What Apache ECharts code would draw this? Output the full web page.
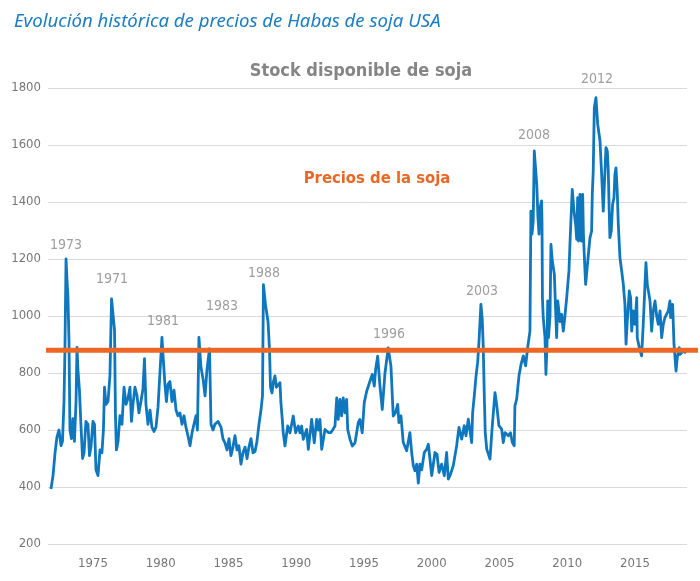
<!DOCTYPE html>
<html>
<head>
<meta charset="utf-8">
<script src="https://cdn.jsdelivr.net/npm/echarts@6/dist/echarts.min.js"></script>
<style>
  html, body { margin: 0; padding: 0; background: #fff; }
  #main { width: 700px; height: 581px; }
</style>
</head>
<body>
<div id="main"></div>
<script>
// fechas (años decimales) y precios (centavos/bushel)
var years = [
  1971.90, 1972.05, 1972.20, 1972.34, 1972.49, 1972.64, 1972.75, 1972.86, 1972.93, 1973.01,
  1973.08, 1973.15, 1973.23, 1973.30, 1973.41, 1973.52, 1973.63, 1973.75, 1973.82, 1973.89,
  1974.00, 1974.11, 1974.23, 1974.34, 1974.48, 1974.63, 1974.74, 1974.85, 1975.00, 1975.11,
  1975.22, 1975.37, 1975.52, 1975.66, 1975.77, 1975.85, 1975.96, 1976.11, 1976.25, 1976.37,
  1976.48, 1976.59, 1976.66, 1976.73, 1976.85, 1976.99, 1977.14, 1977.29, 1977.44, 1977.58,
  1977.73, 1977.84, 1977.95, 1978.10, 1978.25, 1978.39, 1978.54, 1978.69, 1978.80, 1978.91,
  1979.06, 1979.21, 1979.35, 1979.50, 1979.65, 1979.80, 1979.94, 1980.09, 1980.20, 1980.31,
  1980.42, 1980.54, 1980.68, 1980.83, 1980.98, 1981.13, 1981.27, 1981.42, 1981.57, 1981.72,
  1981.86, 1982.01, 1982.16, 1982.31, 1982.45, 1982.60, 1982.71, 1982.82, 1982.97, 1983.12,
  1983.27, 1983.41, 1983.60, 1983.71, 1983.86, 1984.00, 1984.23, 1984.45, 1984.59, 1984.74,
  1984.89, 1985.04, 1985.18, 1985.33, 1985.48, 1985.63, 1985.77, 1985.92, 1986.07, 1986.22,
  1986.37, 1986.51, 1986.66, 1986.81, 1986.96, 1987.10, 1987.25, 1987.40, 1987.51, 1987.58,
  1987.73, 1987.92, 1988.03, 1988.10, 1988.21, 1988.32, 1988.43, 1988.54, 1988.68, 1988.80,
  1988.87, 1988.97, 1989.04, 1989.17, 1989.37, 1989.54, 1989.78, 1989.96, 1990.15, 1990.28,
  1990.40, 1990.52, 1990.77, 1990.89, 1991.14, 1991.33, 1991.51, 1991.63, 1991.75, 1991.88,
  1992.12, 1992.37, 1992.56, 1992.71, 1992.86, 1992.99, 1993.10, 1993.23, 1993.35, 1993.47,
  1993.60, 1993.72, 1993.80, 1993.97, 1994.14, 1994.34, 1994.58, 1994.70, 1994.87, 1995.02,
  1995.20, 1995.44, 1995.61, 1995.76, 1995.86, 1996.01, 1996.18, 1996.35, 1996.55, 1996.79,
  1996.99, 1997.16, 1997.32, 1997.49, 1997.58, 1997.73, 1997.90, 1998.15, 1998.39, 1998.52,
  1998.64, 1998.76, 1998.89, 1999.01, 1999.13, 1999.26, 1999.45, 1999.63, 1999.75, 1999.87,
  2000.00, 2000.24, 2000.39, 2000.54, 2000.73, 2000.93, 2001.10, 2001.22, 2001.35, 2001.59,
  2001.84, 2002.01, 2002.21, 2002.40, 2002.53, 2002.70, 2002.82, 2002.95, 2003.02, 2003.14,
  2003.27, 2003.39, 2003.49, 2003.63, 2003.73, 2003.80, 2003.88, 2003.95, 2004.06, 2004.30,
  2004.47, 2004.67, 2004.79, 2004.96, 2005.16, 2005.28, 2005.41, 2005.65, 2005.81, 2005.95,
  2006.09, 2006.14, 2006.27, 2006.44, 2006.59, 2006.76, 2006.93, 2007.08, 2007.25, 2007.32,
  2007.40, 2007.49, 2007.57, 2007.66, 2007.75, 2007.84, 2007.92, 2007.99, 2008.11, 2008.14,
  2008.17, 2008.23, 2008.36, 2008.43, 2008.51, 2008.56, 2008.62, 2008.73, 2008.80, 2008.90,
  2009.05, 2009.12, 2009.22, 2009.30, 2009.47, 2009.59, 2009.71, 2009.83, 2009.96, 2010.06,
  2010.13, 2010.20, 2010.37, 2010.50, 2010.62, 2010.70, 2010.77, 2010.83, 2010.94, 2011.04,
  2011.14, 2011.20, 2011.31, 2011.36, 2011.53, 2011.68, 2011.80, 2011.85, 2011.92, 2012.00,
  2012.12, 2012.25, 2012.42, 2012.54, 2012.66, 2012.86, 2012.96, 2013.03, 2013.10, 2013.15,
  2013.25, 2013.35, 2013.45, 2013.52, 2013.60, 2013.69, 2013.77, 2013.89, 2014.02, 2014.14,
  2014.26, 2014.34, 2014.43, 2014.58, 2014.68, 2014.76, 2014.87, 2015.00, 2015.13, 2015.17,
  2015.32, 2015.49, 2015.61, 2015.74, 2015.81, 2015.91, 2016.11, 2016.23, 2016.35, 2016.48,
  2016.60, 2016.72, 2016.85, 2016.97, 2017.09, 2017.21, 2017.46, 2017.58, 2017.63, 2017.78,
  2017.88, 2018.03, 2018.12, 2018.27, 2018.32, 2018.56, 2018.76
];
var prices = [
  393, 440, 520, 575, 600, 545, 560, 700, 880, 1200,
  1130, 1069, 910, 600, 570, 640, 560, 700, 890, 810,
  740, 620, 500, 520, 630, 620, 510, 540, 630, 620,
  460, 440, 530, 520, 600, 750, 690, 700, 790, 1060,
  1055, 950, 650, 530, 560, 650, 620, 750, 690, 710,
  750, 630, 690, 750, 720, 660, 700, 745, 850, 690,
  620, 670, 610, 595, 610, 680, 800, 925, 840, 760,
  700, 760, 770, 700, 740, 670, 650, 660, 620, 650,
  610, 580, 545, 590, 620, 650, 600, 925, 820, 780,
  720, 810, 885, 620, 600, 620, 630, 610, 570, 555,
  530, 570, 510, 540, 580, 530, 545, 480, 520, 540,
  500, 540, 570, 520, 525, 560, 620, 670, 720, 1110,
  1040, 980, 880, 750, 730, 770, 790, 750, 754, 766,
  696, 637, 591, 544, 614, 590, 649, 590, 614, 590,
  614, 567, 602, 532, 637, 555, 637, 600, 637, 532,
  602, 591, 591, 602, 614, 713, 637, 707, 650, 713,
  660, 707, 602, 567, 544, 555, 626, 637, 590, 696,
  736, 771, 795, 754, 812, 859, 754, 672, 800, 888,
  824, 649, 660, 690, 626, 650, 556, 527, 591, 521,
  475, 457, 480, 414, 480, 460, 521, 533, 550, 498,
  440, 521, 515, 451, 480, 440, 521, 428, 440, 475,
  545, 609, 568, 615, 580, 638, 638, 556, 661, 720,
  790, 837, 912, 1041, 988, 895, 720, 591, 533, 498,
  615, 731, 690, 615, 603, 556, 591, 580, 590, 556,
  545, 685, 708, 790, 830, 860, 825, 889, 947, 1368,
  1287, 1333, 1579, 1520, 1462, 1345, 1287, 1380, 1404, 1322,
  1064, 994, 924, 795, 901, 1053, 924, 1000, 1251, 1193,
  1146, 1053, 924, 1053, 980, 1006, 947, 1000, 1064, 1060,
  1160, 1251, 1444, 1368, 1322, 1269, 1415, 1263, 1427, 1263,
  1427, 1280, 1158, 1111, 1200, 1275, 1298, 1427, 1509, 1731,
  1766, 1673, 1614, 1497, 1368, 1591, 1579, 1509, 1368, 1275,
  1298, 1392, 1415, 1497, 1520, 1439, 1322, 1205, 1158, 1111,
  1041, 901, 980, 1088, 1064, 947, 1018, 971, 1064, 924,
  889, 860, 971, 1111, 1187, 1111, 1053, 947, 1018, 1053,
  1000, 971, 1018, 924, 971, 994, 1018, 1053, 994, 1041,
  901, 807, 854, 889, 865, 877, 870
];

// linea de referencia "Precios de la soja"
var refPrice = 880;

// etiquetas de años sobre los picos
var annotLabels = ['1973', '1971', '1981', '1983', '1988', '1996', '2003', '2008', '2012'];
var annotYears  = [1973.01, 1976.40, 1980.17, 1984.52, 1987.62, 1996.85, 2003.71, 2007.55, 2012.20];
var annotValues = [1249, 1130, 982, 1035, 1151, 937, 1088, 1635, 1832];

var xTicks = [1975, 1980, 1985, 1990, 1995, 2000, 2005, 2010, 2015];

var narrowFont = '"Liberation Sans Narrow", "DejaVu Sans Condensed", "Roboto", sans-serif';

var chart = echarts.init(document.getElementById('main'));

var seriesData = [];
for (var i = 0; i < years.length; i++) {
  seriesData.push([years[i], prices[i]]);
}
var annotData = [];
for (var j = 0; j < annotLabels.length; j++) {
  annotData.push({ name: annotLabels[j], value: [annotYears[j], annotValues[j]] });
}

chart.setOption({
  animation: false,
  title: [{
    text: 'Evolución histórica de precios de Habas de soja USA',
    left: 9,
    top: 7,
    textStyle: {
      fontFamily: 'Noto Sans',
      fontStyle: 'italic',
      fontWeight: 'normal',
      fontSize: 18.6,
      color: '#1a7cc1'
    }
  }, {
    text: 'Stock disponible de soja',
    left: 356,
    top: 57,
    textAlign: 'center',
    textStyle: { fontFamily: narrowFont, fontWeight: 'bold', fontSize: 18, color: '#858585' }
  }, {
    text: 'Precios de la soja',
    left: 372,
    top: 165,
    textAlign: 'center',
    textStyle: { fontFamily: narrowFont, fontWeight: 'bold', fontSize: 16.5, color: '#eb6723' }
  }],
  grid: [
    { left: 48, right: 13, top: 88, bottom: 37 },
    { left: 46, right: 2, top: 88, bottom: 37 }
  ],
  xAxis: [{
    type: 'value',
    gridIndex: 0,
    min: 1971.68,
    max: 2018.84,
    splitLine: { show: false },
    axisLine: { show: false },
    axisTick: { show: false },
    axisLabel: {
      customValues: xTicks,
      margin: 13,
      fontFamily: narrowFont,
      fontSize: 13,
      color: '#767676',
      formatter: function (v) { return String(v); }
    }
  }, {
    type: 'value',
    gridIndex: 1,
    min: 0,
    max: 1,
    show: false
  }],
  yAxis: [{
    type: 'value',
    gridIndex: 0,
    min: 200,
    max: 1800,
    interval: 200,
    axisLine: { show: false },
    axisTick: { show: false },
    splitLine: { lineStyle: { color: '#d9d9d9', width: 1 } },
    axisLabel: {
      margin: 7,
      fontFamily: narrowFont,
      fontSize: 13,
      color: '#767676',
      formatter: function (v) { return String(v); }
    }
  }, {
    type: 'value',
    gridIndex: 1,
    min: 200,
    max: 1800,
    show: false
  }],
  series: [{
    type: 'line',
    xAxisIndex: 0,
    yAxisIndex: 0,
    data: seriesData,
    showSymbol: false,
    symbol: 'none',
    z: 2,
    lineStyle: { color: '#0f77bd', width: 2.8, join: 'round' }
  }, {
    type: 'line',
    xAxisIndex: 1,
    yAxisIndex: 1,
    data: [[0, refPrice], [1, refPrice]],
    symbol: 'none',
    z: 3,
    lineStyle: { color: '#eb6723', width: 5 }
  }, {
    type: 'scatter',
    xAxisIndex: 0,
    yAxisIndex: 0,
    data: annotData,
    symbolSize: 0,
    clip: false,
    z: 4,
    label: {
      show: true,
      position: 'inside',
      formatter: '{b}',
      fontFamily: narrowFont,
      fontSize: 14,
      color: '#858585'
    }
  }]
});
</script>
</body>
</html>
